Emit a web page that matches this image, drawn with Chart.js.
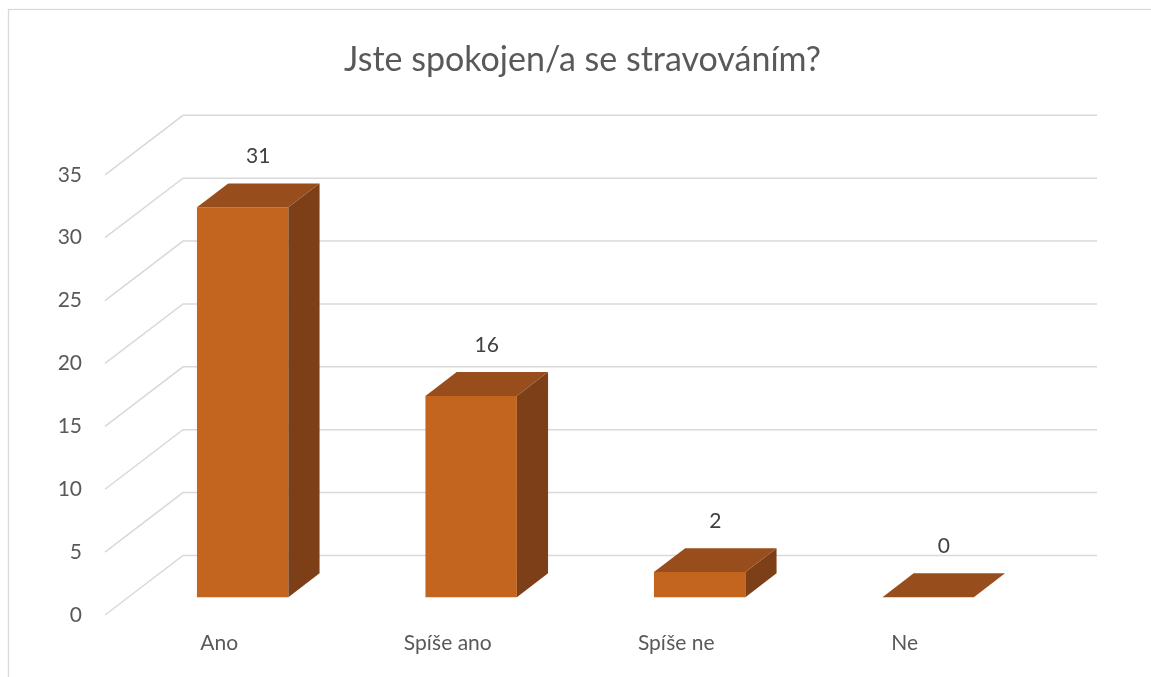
<!DOCTYPE html>
<html lang="cs">
<head>
<meta charset="utf-8">
<title>Jste spokojen/a se stravováním?</title>
<script src="https://cdn.jsdelivr.net/npm/chart.js@4.4.1/dist/chart.umd.min.js"></script>
<style>
  html, body { margin: 0; padding: 0; background: #fff; }
  canvas { display: block; }
</style>
</head>
<body>
<canvas id="stravaChart" width="1151" height="677"></canvas>
<script>
const categories = ['Ano', 'Spíše ano', 'Spíše ne', 'Ne'];
const answerCounts = [31, 16, 2, 0];
const yMin = 0;
const yMax = 35;
const yStep = 5;

const FONT = 'Lato, "Open Sans", sans-serif';
const TEXT_GREY = '#595959';
const GRID_GREY = '#d9d9d9';

// barvy kvádru (přední, horní, boční stěna)
const BAR_FRONT_COLOR = '#C4651F';
const BAR_TOP_COLOR = '#974E1C';
const BAR_SIDE_COLOR = '#7C3F17';

// hloubka 3D stěn a kde v ní sloupce stojí
const WALL_DX = 78;
const WALL_DY = -59.5;
const BAR_FRONT = 0.30;
const BAR_BACK = 0.70;

const excel3d = {
  id: 'excel3d',

  beforeDraw(chart) {
    const { ctx } = chart;
    ctx.save();
    ctx.fillStyle = '#fff';
    ctx.fillRect(0, 0, chart.width, chart.height);
    ctx.strokeStyle = GRID_GREY;
    ctx.lineWidth = 1.3;
    ctx.strokeRect(8.5, 9.5, chart.width + 20, chart.height + 20);
    ctx.restore();
  },

  afterLayout(chart) {
    // Excel má nadpis posunutý trochu doprava od středu
    chart.titleBlock.left = 14;
    chart.titleBlock.right = chart.width;
  },

  beforeDatasetsDraw(chart) {
    const { ctx, chartArea, scales: { y } } = chart;

    // boční stěna (šikmé čáry) + zadní stěna (vodorovné čáry)
    ctx.save();
    ctx.strokeStyle = GRID_GREY;
    ctx.lineWidth = 1.5;
    y.ticks.forEach(t => {
      const py = y.getPixelForValue(t.value);
      ctx.beginPath();
      ctx.moveTo(chartArea.left, py);
      ctx.lineTo(chartArea.left + WALL_DX, py + WALL_DY);
      ctx.lineTo(chartArea.right + WALL_DX, py + WALL_DY);
      ctx.stroke();
    });
    ctx.restore();

    // přední stěny sloupců kreslí Chart.js, jen je posuneme dovnitř hloubky
    ctx.save();
    ctx.translate(WALL_DX * BAR_FRONT, WALL_DY * BAR_FRONT);
  },

  afterDatasetsDraw(chart) {
    const { ctx } = chart;
    ctx.restore();

    const fx = WALL_DX * BAR_FRONT;
    const fy = WALL_DY * BAR_FRONT;
    const dx = WALL_DX * (BAR_BACK - BAR_FRONT);
    const dy = WALL_DY * (BAR_BACK - BAR_FRONT);

    ctx.save();
    chart.getDatasetMeta(0).data.forEach((bar, i) => {
      const { x, y, base, width } = bar.getProps(['x', 'y', 'base', 'width'], true);
      const l = x - width / 2 + fx;
      const r = x + width / 2 + fx;
      const top = y + fy;
      const bot = base + fy;

      // boční stěna
      ctx.fillStyle = BAR_SIDE_COLOR;
      ctx.beginPath();
      ctx.moveTo(r, top);
      ctx.lineTo(r + dx, top + dy);
      ctx.lineTo(r + dx, bot + dy);
      ctx.lineTo(r, bot);
      ctx.closePath();
      ctx.fill();

      // horní stěna
      ctx.fillStyle = BAR_TOP_COLOR;
      ctx.beginPath();
      ctx.moveTo(l, top);
      ctx.lineTo(l + dx, top + dy);
      ctx.lineTo(r + dx, top + dy);
      ctx.lineTo(r, top);
      ctx.closePath();
      ctx.fill();

      // popisek hodnoty
      ctx.fillStyle = '#404040';
      ctx.font = `21px ${FONT}`;
      ctx.textAlign = 'center';
      ctx.textBaseline = 'middle';
      ctx.fillText(String(answerCounts[i]), x + fx + dx / 2, top + dy - 27);
    });
    ctx.restore();
  }
};

Chart.defaults.font.family = FONT;
Chart.defaults.color = TEXT_GREY;

new Chart(document.getElementById('stravaChart'), {
  type: 'bar',
  data: {
    labels: categories,
    datasets: [{
      data: answerCounts,
      backgroundColor: BAR_FRONT_COLOR,
      borderWidth: 0,
      barPercentage: 0.4,
      categoryPercentage: 1.0,
      clip: false
    }]
  },
  options: {
    responsive: false,
    animation: false,
    layout: { padding: { top: 0, left: 0, right: 132, bottom: 0 } },
    plugins: {
      legend: { display: false },
      tooltip: { enabled: false },
      title: {
        display: true,
        text: 'Jste spokojen/a se stravováním?',
        color: TEXT_GREY,
        font: { family: FONT, size: 34, weight: 'normal' },
        padding: { top: 40, bottom: 94 }
      }
    },
    scales: {
      x: {
        grid: { display: false, drawTicks: false },
        border: { display: false },
        ticks: { color: TEXT_GREY, font: { size: 21 }, padding: 16, maxRotation: 0 },
        afterFit: scale => { scale.height = 62; }
      },
      y: {
        min: yMin,
        max: yMax,
        grid: { display: false, drawTicks: false },
        border: { display: false },
        ticks: { stepSize: yStep, color: TEXT_GREY, font: { size: 21 }, padding: 23 },
        afterFit: scale => { scale.width = 105; }
      }
    }
  },
  plugins: [excel3d]
});
</script>
</body>
</html>
